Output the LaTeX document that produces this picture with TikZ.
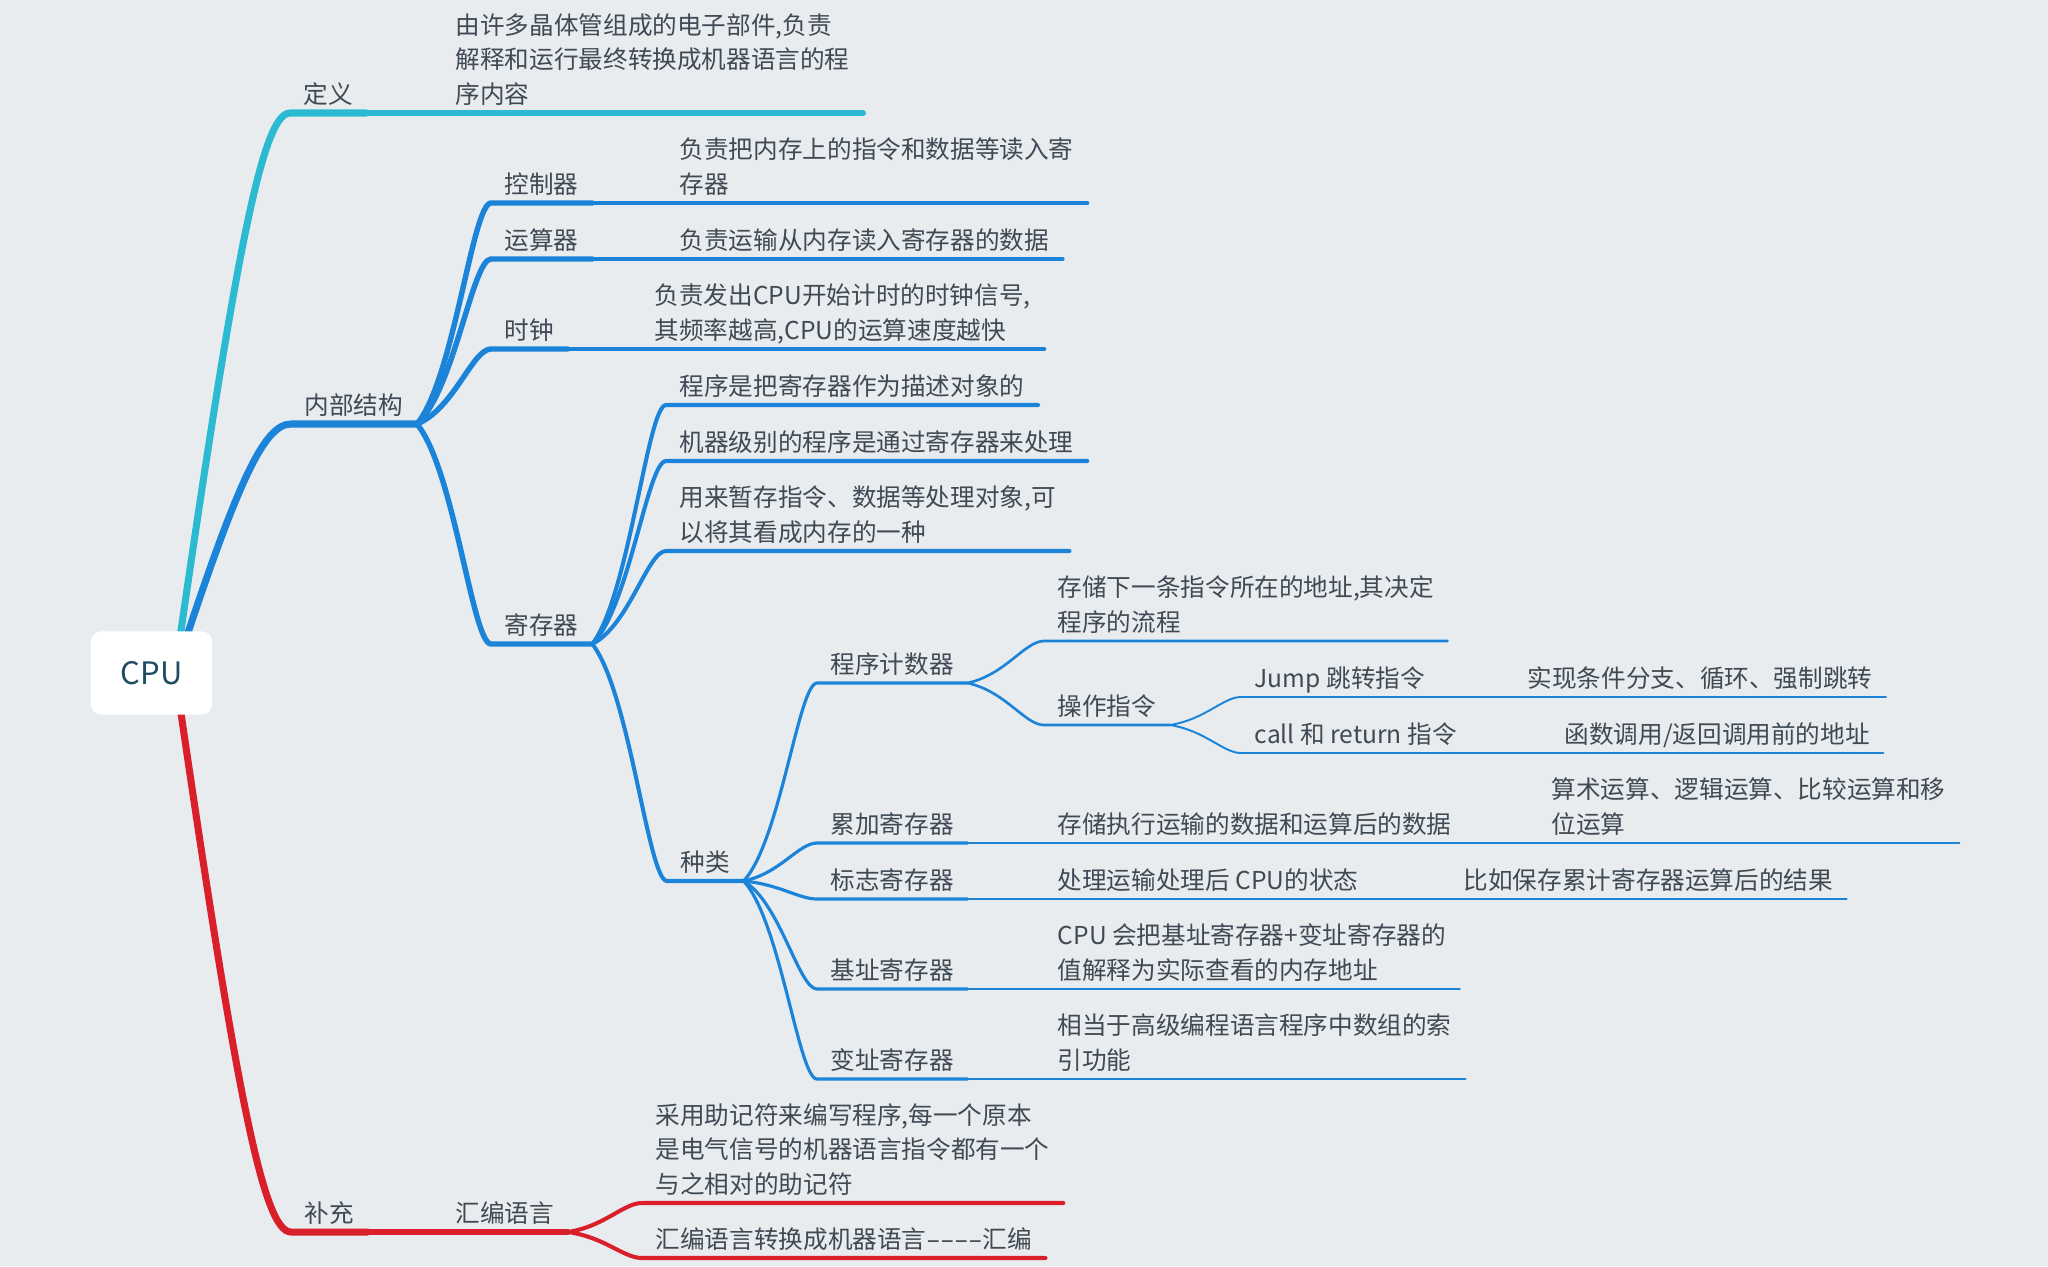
\documentclass[tikz,border=0pt]{standalone}
\usepackage{fontspec}
\setmainfont{Noto Sans CJK SC}
\usetikzlibrary{calc}

\definecolor{bgc}{HTML}{E8ECEF}
\definecolor{txtc}{HTML}{3F4A54}
\definecolor{cpuc}{HTML}{1E4D60}
\definecolor{defc}{HTML}{2BBAD2}
\definecolor{innc}{HTML}{1B84D9}
\definecolor{supc}{HTML}{D9202A}

% link from the root to a main topic, then the topic's underline
\newcommand{\stem}[3]{%
  \draw[#1] let \p1=#2, \p2=(#3.south west) in
    (\p1) .. controls ({\x1+0.525*(\x2-\x1)},{\y1+0.75*(\y2-\y1)})
    and ({\x2-0.24*(\x2-\x1)},\y2) .. (\p2) -- (#3.south east);}
% link from a parent point to a child, then the child's underline
\newcommand{\branch}[3]{%
  \draw[#1] let \p1=#2, \p2=(#3.south west) in
    (\p1) .. controls ({\x1+0.5*(\x2-\x1)},{\y1+0.2*(\y2-\y1)})
    and ({\x2-0.25*(\x2-\x1)},\y2) .. (\p2) -- (#3.south east);}
% wide hyphen
\newcommand{\wdash}{\makebox[0.14cm]{\scalebox{1.7}[1]{-}}}

\begin{document}
\begin{tikzpicture}[x=0.01cm,y=-0.01cm]
\tikzset{topic/.style={anchor=south west,inner xsep=0.13cm,inner ysep=0pt,
    text depth=0.09cm,align=left,text=txtc,font=\fontsize{7}{9.8}\selectfont},
  cpubox/.style={fill=white,rounded corners=0.1cm,minimum width=1.21cm,
    minimum height=0.83cm,text=cpuc,font=\fontsize{8.8}{10}\selectfont},
  lv1/.style={line width=2pt,line cap=round,line join=round},
  lv2/.style={line width=1.55pt,line cap=round,line join=round},
  lv3/.style={line width=1.15pt,line cap=round,line join=round},
  lv4/.style={line width=0.9pt,line cap=round,line join=round},
  lv5/.style={line width=0.75pt,line cap=round,line join=round},
  lv6/.style={line width=0.55pt,line cap=round,line join=round},
  lv7/.style={line width=0.4pt,line cap=round,line join=round}}
\fill[bgc] (0,0) rectangle (2048,1266);
\useasboundingbox (0,0) rectangle (2048,1266);

\coordinate (root) at (175,672);
% first level
\node[topic] (def) at (290,113) {定义};
\node[topic] (inner) at (291,424) {内部结构};
\node[topic] (sup) at (291,1232) {补充};
% definition
\node[topic] (deftext) at (442,113) {由许多晶体管组成的电子部件,负责\\解释和运行最终转换成机器语言的程\\序内容};
% internal structure
\node[topic] (ctrl) at (491,203) {控制器};
\node[topic] (alu) at (491,259) {运算器};
\node[topic] (clk) at (491,349) {时钟};
\node[topic] (reg) at (491,644) {寄存器};
\node[topic] (ctrltext) at (666,203) {负责把内存上的指令和数据等读入寄\\存器};
\node[topic] (alutext) at (666,259) {负责运输从内存读入寄存器的数据};
\node[topic] (clktext) at (641,349) {负责发出CPU开始计时的时钟信号,\\其频率越高,CPU的运算速度越快};
% registers
\node[topic] (reg1) at (666,405) {程序是把寄存器作为描述对象的};
\node[topic] (reg2) at (666,461) {机器级别的程序是通过寄存器来处理};
\node[topic] (reg3) at (666,551) {用来暂存指令、数据等处理对象,可\\以将其看成内存的一种};
\node[topic] (kind) at (667,881) {种类};
% kinds of registers
\node[topic] (pc) at (817,683) {程序计数器};
\node[topic] (acc) at (817,843) {累加寄存器};
\node[topic] (flag) at (817,899) {标志寄存器};
\node[topic] (base) at (817,989) {基址寄存器};
\node[topic] (idx) at (817,1079) {变址寄存器};
\node[topic] (pctext) at (1044,641) {存储下一条指令所在的地址,其决定\\程序的流程};
\node[topic] (op) at (1044,725) {操作指令};
\node[topic] (jmp) at (1241,697) {Jump 跳转指令};
\node[topic] (call) at (1241,753) {call 和 return 指令};
\node[topic] (jmptext) at (1514,697) {实现条件分支、循环、强制跳转};
\node[topic] (calltext) at (1551,753) {函数调用/返回调用前的地址};
\node[topic] (acctext) at (1044,843) {存储执行运输的数据和运算后的数据};
\node[topic] (accops) at (1538,843) {算术运算、逻辑运算、比较运算和移\\位运算};
\node[topic] (flagtext) at (1044,899) {处理运输处理后 CPU的状态};
\node[topic] (flagex) at (1450,899) {比如保存累计寄存器运算后的结果};
\node[topic] (basetext) at (1044,989) {CPU 会把基址寄存器+变址寄存器的\\值解释为实际查看的内存地址};
\node[topic] (idxtext) at (1044,1079) {相当于高级编程语言程序中数组的索\\引功能};
% supplement
\node[topic] (asm) at (442,1232) {汇编语言};
\node[topic] (asm1) at (642,1203) {采用助记符来编写程序,每一个原本\\是电气信号的机器语言指令都有一个\\与之相对的助记符};
\node[topic] (asm2) at (642,1258) {汇编语言转换成机器语言\wdash\wdash\wdash\wdash 汇编};

% links
\stem{lv1,defc}{(root)}{def}
\branch{lv2,defc}{(def.south east)}{deftext}
\stem{lv1,innc}{(root)}{inner}
\foreach \t in {ctrl,alu,clk,reg}
  \branch{lv2,innc}{(inner.south east)}{\t};
\branch{lv3,innc}{(ctrl.south east)}{ctrltext}
\branch{lv3,innc}{(alu.south east)}{alutext}
\branch{lv3,innc}{(clk.south east)}{clktext}
\foreach \t in {reg1,reg2,reg3,kind}
  \branch{lv3,innc}{(reg.south east)}{\t};
\foreach \t in {pc,acc,flag,base,idx}
  \branch{lv4,innc}{(kind.south east)}{\t};
\branch{lv5,innc}{(pc.south east)}{pctext}
\branch{lv5,innc}{(pc.south east)}{op}
\branch{lv6,innc}{(op.south east)}{jmp}
\branch{lv6,innc}{(op.south east)}{call}
\branch{lv7,innc}{(jmp.south east)}{jmptext}
\branch{lv7,innc}{(call.south east)}{calltext}
\branch{lv5,innc}{(acc.south east)}{acctext}
\branch{lv6,innc}{(acctext.south east)}{accops}
\branch{lv5,innc}{(flag.south east)}{flagtext}
\branch{lv6,innc}{(flagtext.south east)}{flagex}
\branch{lv5,innc}{(base.south east)}{basetext}
\branch{lv5,innc}{(idx.south east)}{idxtext}
\stem{lv1,supc}{(root)}{sup}
\branch{lv2,supc}{(sup.south east)}{asm}
\branch{lv3,supc}{(asm.south east)}{asm1}
\branch{lv3,supc}{(asm.south east)}{asm2}

\node[cpubox] (cpu) at (151.5,673) {CPU};
\end{tikzpicture}
\end{document}
